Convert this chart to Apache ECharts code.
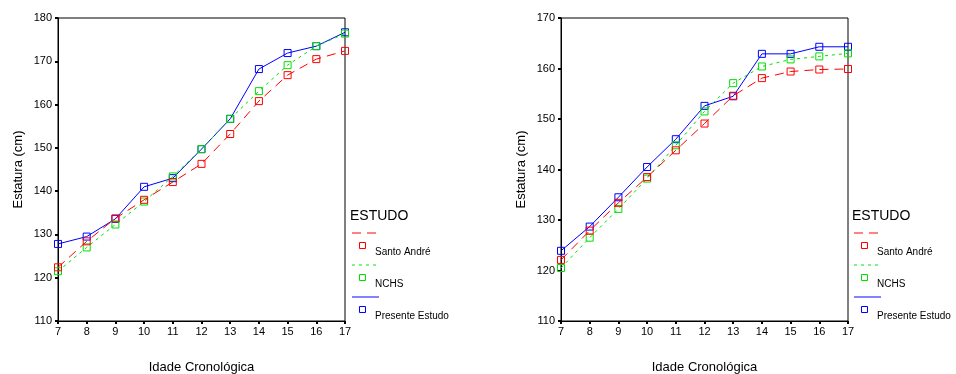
<!DOCTYPE html>
<html>
<head>
<meta charset="utf-8">
<script src="https://cdn.jsdelivr.net/npm/echarts@6/dist/echarts.min.js"></script>
<style>
  html, body { margin: 0; padding: 0; background: #fff; }
  #chart { width: 956px; height: 374px; }
</style>
</head>
<body>
<div id="chart"></div>
<script>
// idade (anos)
var ages = [7, 8, 9, 10, 11, 12, 13, 14, 15, 16, 17];

// grafico da esquerda
var leftSantoAndre = [122.4, 128.4, 133.7, 138.0, 142.1, 146.3, 153.2, 160.8, 166.8, 170.5, 172.4];
var leftNCHS       = [121.5, 127.0, 132.3, 137.6, 143.4, 149.7, 156.7, 163.1, 169.1, 173.5, 176.4];
var leftPresente   = [127.8, 129.5, 133.6, 141.0, 143.0, 149.7, 156.7, 168.2, 171.9, 173.5, 176.7];

// grafico da direita
var rightSantoAndre = [122.1, 127.9, 133.4, 138.5, 143.8, 149.1, 154.6, 158.1, 159.4, 159.8, 159.9];
var rightNCHS       = [120.5, 126.5, 132.2, 138.2, 144.8, 151.5, 157.1, 160.4, 161.8, 162.4, 163.0];
var rightPresente   = [123.9, 128.7, 134.5, 140.5, 146.0, 152.6, 154.5, 162.9, 162.9, 164.3, 164.3];

var leftYTicks = [110, 180];
var rightYTicks = [110, 170];
var seriesNames = ['Santo André', 'NCHS', 'Presente Estudo'];
var legendTitle = 'ESTUDO';

var font = 'Liberation Sans, Arial, sans-serif';
var colors = ['#ff0000', '#00e000', '#0000ff'];
var dashes = [[9, 6], [3, 4], 'solid'];

var myChart = echarts.init(document.getElementById('chart'));

function pairs(vals) {
  return ages.map(function (a, i) { return [a, vals[i]]; });
}

function makeSeries(vals, k, idx) {
  return {
    name: seriesNames[k],
    type: 'line',
    xAxisIndex: idx,
    yAxisIndex: idx,
    data: pairs(vals),
    symbol: 'rect',
    symbolSize: 7,
    itemStyle: { color: 'rgba(0,0,0,0)', borderColor: colors[k], borderWidth: 1 },
    lineStyle: { color: colors[k], width: 1, type: dashes[k] },
    emphasis: { disabled: true },
    animation: false,
    z: 3 - k
  };
}

function xAxis(idx) {
  return {
    type: 'value', gridIndex: idx, min: 7, max: 17, interval: 1,
    name: 'Idade Cronológica', nameLocation: 'middle', nameGap: 40,
    nameTextStyle: { fontFamily: font, fontSize: 13, color: '#000' },
    axisLine: { lineStyle: { color: '#000', width: 1 } },
    axisTick: { length: 3, lineStyle: { color: '#000', width: 2 } },
    axisLabel: { margin: 5, fontFamily: font, fontSize: 11, color: '#000' },
    splitLine: { show: false }
  };
}

function yAxis(idx, ticks) {
  return {
    type: 'value', gridIndex: idx, min: ticks[0], max: ticks[1], interval: 10,
    name: 'Estatura (cm)', nameLocation: 'middle', nameGap: 33,
    nameTextStyle: { fontFamily: font, fontSize: 13, color: '#000' },
    axisLine: { lineStyle: { color: '#000', width: 1 } },
    axisTick: { length: 3, lineStyle: { color: '#000', width: 2 } },
    axisLabel: { margin: 6, fontFamily: font, fontSize: 11, color: '#000' },
    splitLine: { show: false }
  };
}

// legenda no estilo do SPSS: linha em cima, quadrado e texto embaixo
function legendGraphics(x0) {
  var g = [{
    type: 'text', left: x0, top: 209,
    style: { text: legendTitle, font: '14px ' + font, fill: '#000' }
  }];
  var lineY = [233, 265, 297];
  for (var k = 0; k < 3; k++) {
    g.push({
      type: 'line',
      shape: { x1: x0 + 2, y1: lineY[k], x2: x0 + 29, y2: lineY[k] },
      style: { stroke: colors[k], lineWidth: 1.5, opacity: 0.65, lineDash: k == 2 ? null : dashes[k] }
    });
    g.push({
      type: 'rect',
      shape: { x: x0 + 9.5, y: lineY[k] + 9.5, width: 6, height: 6 },
      style: { fill: 'none', stroke: colors[k], lineWidth: 1 }
    });
    g.push({
      type: 'text', left: x0 + 25, top: lineY[k] + 14,
      style: { text: seriesNames[k], font: '10px ' + font, fill: '#000' }
    });
  }
  return g;
}

var option = {
  backgroundColor: '#fff',
  grid: [
    { left: 58, top: 18, width: 287, height: 303, show: true, borderColor: '#000', borderWidth: 1, outerBoundsMode: 'none' },
    { left: 561, top: 18, width: 287, height: 303, show: true, borderColor: '#000', borderWidth: 1, outerBoundsMode: 'none' }
  ],
  xAxis: [xAxis(0), xAxis(1)],
  yAxis: [yAxis(0, leftYTicks), yAxis(1, rightYTicks)],
  series: [
    makeSeries(leftSantoAndre, 0, 0),
    makeSeries(leftNCHS, 1, 0),
    makeSeries(leftPresente, 2, 0),
    makeSeries(rightSantoAndre, 0, 1),
    makeSeries(rightNCHS, 1, 1),
    makeSeries(rightPresente, 2, 1)
  ],
  graphic: legendGraphics(350).concat(legendGraphics(852))
};

myChart.setOption(option);
</script>
</body>
</html>
